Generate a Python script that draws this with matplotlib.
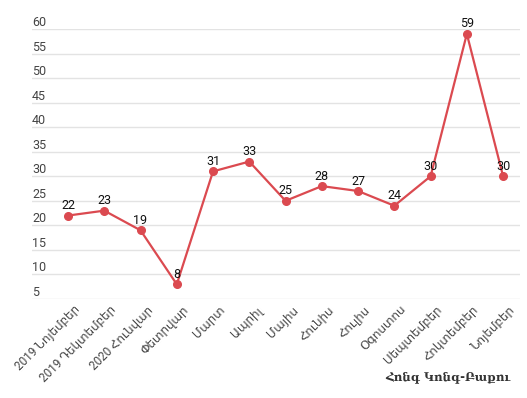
import matplotlib
matplotlib.use("Agg")
import matplotlib.pyplot as plt
import matplotlib.transforms as mtransforms

# data
months = ["2019 Նոյեմբեր", "2019 Դեկտեմբեր", "2020 Հունվար", "Փետրվար", "Մարտ",
          "Ապրիլ", "Մայիս", "Հունիս", "Հուլիս", "Օգոստոս", "Սեպտեմբեր",
          "Հոկտեմբեր", "Նոյեմբեր"]
values = [22, 23, 19, 8, 31, 33, 25, 28, 27, 24, 30, 59, 30]
yticks = [5, 10, 15, 20, 25, 30, 35, 40, 45, 50, 55, 60]
source = "Հոնգ Կոնգ-Բաքու"

plt.rcParams['font.family'] = ['Roboto', 'DejaVu Sans']
red = "#db4a50"

fig = plt.figure(figsize=(5.27, 3.98), dpi=100)
ax = fig.add_axes([0.0607, 0.2487, 0.9263, 0.6784])

x = list(range(len(values)))
ax.plot(x, values, color=red, lw=1.6, marker="o", ms=5.5, clip_on=False, zorder=3)
for xi, v in zip(x, values):
    ax.annotate(str(v), (xi, v), xytext=(0, 2.5), textcoords="offset points",
                ha="center", va="bottom", fontsize=9, color="#111111", zorder=4)

ax.set_xlim(-0.993, 12.47)
ax.set_ylim(5, 60)
ax.set_yticks(yticks)
ax.yaxis.grid(True, color="#e3e3e3", lw=1)
ax.set_axisbelow(True)
ax.tick_params(axis="y", length=0, labelleft=False)
trans = mtransforms.blended_transform_factory(ax.transAxes, ax.transData)
for t in yticks:
    ax.text(0.0, t, str(t), transform=trans, ha="left", va="bottom",
            fontsize=9, color="#444444")

ax.set_xticks(x)
ax.set_xticklabels(months, rotation=45, ha="right", va="top",
                   rotation_mode="anchor", fontsize=8.5, color="#444444")
ax.tick_params(axis="x", length=0, pad=3)
shift = mtransforms.ScaledTranslation(4 / 72, 0, fig.dpi_scale_trans)
for lbl in ax.get_xticklabels():
    lbl.set_transform(lbl.get_transform() + shift)
for s in ax.spines.values():
    s.set_visible(False)

fig.text(0.968, 0.037, source, ha="right", va="bottom", fontsize=8.5,
         fontweight="bold", family=["DejaVu Serif"], color="#333333")

fig.savefig("out.png", dpi=100)
